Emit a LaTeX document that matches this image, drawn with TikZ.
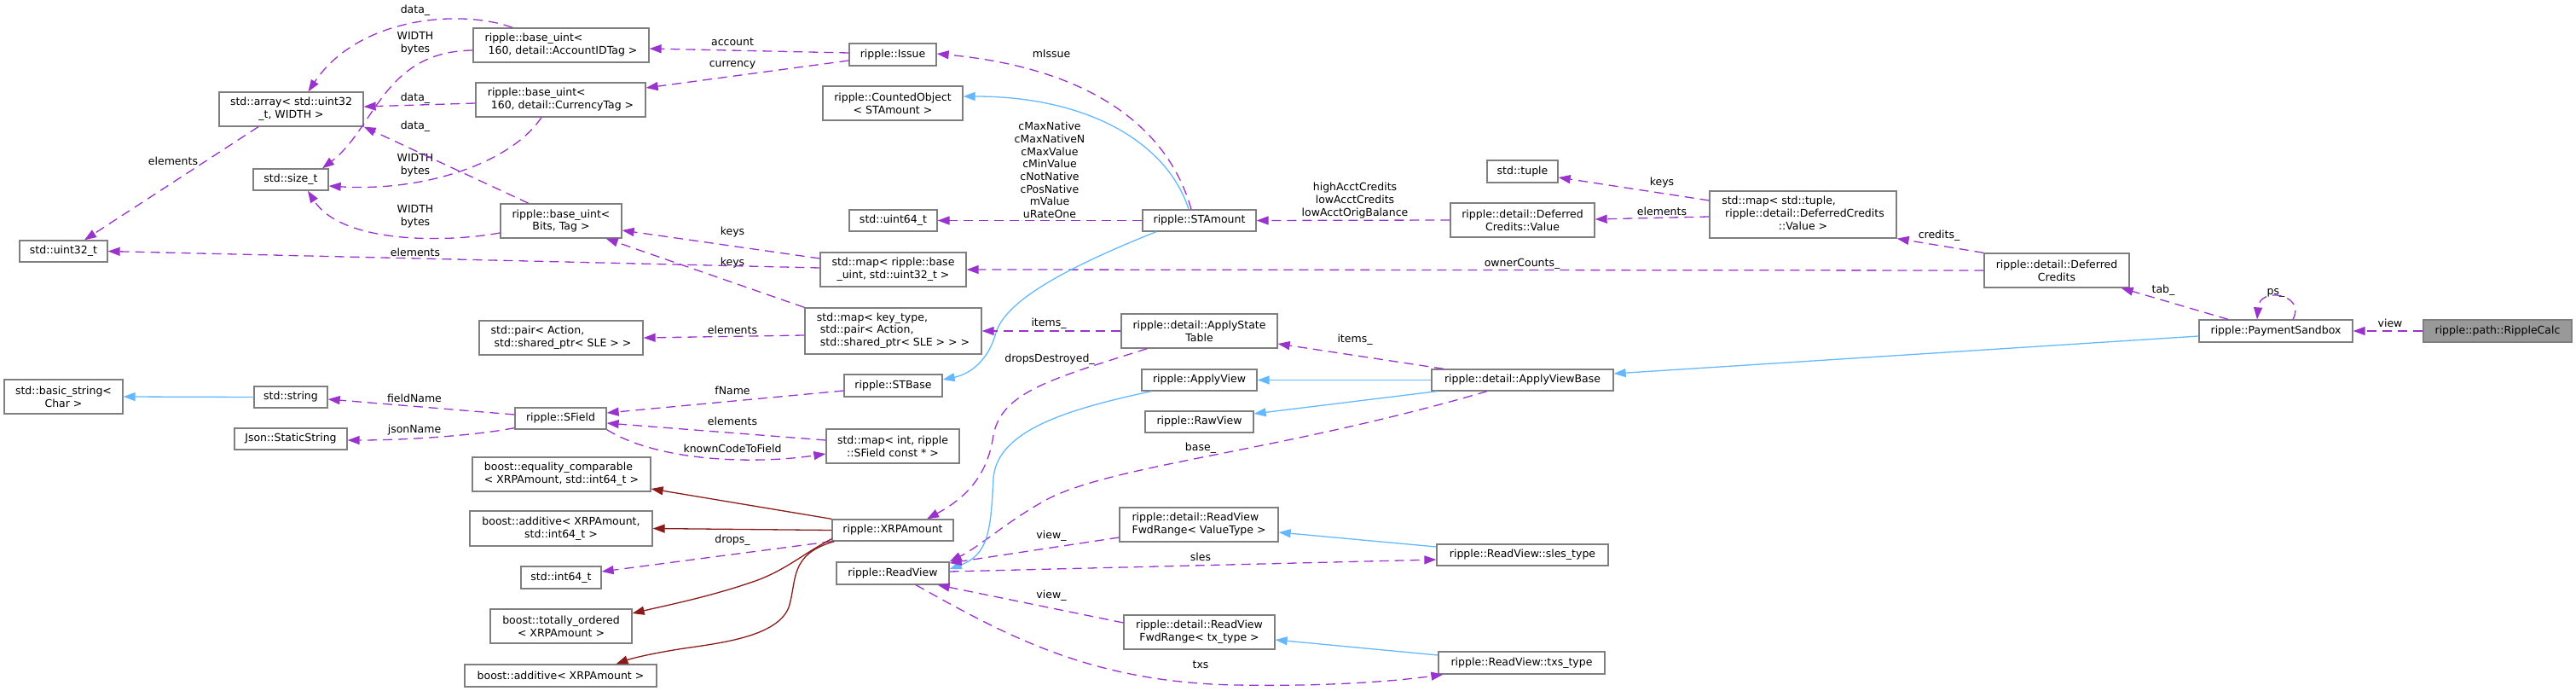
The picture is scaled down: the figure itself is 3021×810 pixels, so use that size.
\documentclass[tikz,border=0pt]{standalone}
\usepackage{fontspec}
\setmainfont{DejaVu Sans}
\usetikzlibrary{arrows.meta}
\definecolor{purp}{HTML}{9A32CD}
\definecolor{lblue}{HTML}{63B8FF}
\definecolor{dred}{HTML}{8B1A1A}
\definecolor{nborder}{HTML}{7F7F7F}
\definecolor{rootfill}{HTML}{999999}
\newcommand\gf{\fontsize{12.5pt}{14.7pt}\selectfont}
\newcommand\LC[2]{\begin{tabular}{@{}l@{}}#1\\\multicolumn{1}{@{}c@{}}{#2}\end{tabular}}
\tikzset{
  box/.style={draw=nborder, line width=1.3pt, fill=white, inner sep=0pt, align=center, font=\gf},
  rootbox/.style={box, fill=rootfill},
  lbl/.style={inner sep=0pt, align=center, font=\gf},
  tipA/.style={-{Triangle[length=14pt,width=10pt]}},
  assoc/.style={draw=purp, line width=1.3pt, dash pattern=on 11pt off 7pt, tipA},
  inh/.style={draw=lblue, line width=1.3pt, tipA},
  rinh/.style={draw=dred, line width=1.3pt, tipA}
}
\begin{document}
\begin{tikzpicture}[x=1pt,y=-1pt]
\useasboundingbox (0,0) rectangle (3021,810);
% ---------- nodes ----------
\node[box, minimum width=169pt, minimum height=40pt] (arr) at (341.5,128) {std::array< std::uint32\\\_t, WIDTH >};
\node[box, minimum width=88pt, minimum height=25pt] (sizet) at (341,210.5) {std::size\_t};
\node[box, minimum width=206pt, minimum height=40pt] (acct) at (658,53) {\LC{ripple::base\_uint<}{\ 160, detail::AccountIDTag >}};
\node[box, minimum width=199pt, minimum height=40pt] (curr) at (657.5,117) {\LC{ripple::base\_uint<}{\ 160, detail::CurrencyTag >}};
\node[box, minimum width=142pt, minimum height=40pt] (bits) at (658,259) {ripple::base\_uint<\\Bits, Tag >};
\node[box, minimum width=103pt, minimum height=25pt] (u32) at (74.5,294.5) {std::uint32\_t};
\node[box, minimum width=102pt, minimum height=26pt] (issue) at (1047,64) {ripple::Issue};
\node[box, minimum width=164pt, minimum height=40pt] (counted) at (1047,121) {ripple::CountedObject\\< STAmount >};
\node[box, minimum width=103pt, minimum height=25pt] (u64) at (1047.5,258.5) {std::uint64\_t};
\node[box, minimum width=133pt, minimum height=25pt] (stamount) at (1406.5,258.5) {ripple::STAmount};
\node[box, minimum width=83pt, minimum height=26pt] (tuple) at (1785.5,201) {std::tuple};
\node[box, minimum width=169pt, minimum height=40pt] (dcval) at (1785.5,258) {ripple::detail::Deferred\\Credits::Value};
\node[box, minimum width=219pt, minimum height=55pt] (maptuple) at (2114.5,251.5) {\LC{std::map< std::tuple,\\\ ripple::detail::DeferredCredits}{::Value >}};
\node[box, minimum width=170pt, minimum height=40pt] (dc) at (2412,317) {ripple::detail::Deferred\\Credits};
\node[box, minimum width=180pt, minimum height=26pt] (psb) at (2669,388) {ripple::PaymentSandbox};
\node[rootbox, minimum width=174pt, minimum height=26pt] (rc) at (2929,388) {ripple::path::RippleCalc};
\node[box, minimum width=213pt, minimum height=25pt] (avb) at (1785.5,445.5) {ripple::detail::ApplyViewBase};
\node[box, minimum width=171pt, minimum height=40pt] (mapbu) at (1047.5,316) {std::map< ripple::base\\\_uint, std::uint32\_t >};
\node[box, minimum width=207pt, minimum height=54pt] (mapkt) at (1047.5,388) {\LC{std::map< key\_type,\\\ std::pair< Action,}{\ std::shared\_ptr< SLE > > >}};
\node[box, minimum width=115pt, minimum height=26pt] (stbase) at (1047.5,452) {ripple::STBase};
\node[box, minimum width=156pt, minimum height=40pt] (mapint) at (1047,523) {std::map< int, ripple\\::SField const * >};
\node[box, minimum width=183pt, minimum height=40pt] (ast) at (1406.5,388) {ripple::detail::ApplyState\\Table};
\node[box, minimum width=135pt, minimum height=25pt] (aview) at (1406.5,445.5) {ripple::ApplyView};
\node[box, minimum width=127pt, minimum height=25pt] (rawview) at (1406.5,494.5) {ripple::RawView};
\node[box, minimum width=192pt, minimum height=40pt] (pair) at (658,396) {\LC{std::pair< Action,}{\ std::shared\_ptr< SLE > >}};
\node[box, minimum width=139pt, minimum height=40pt] (bstr) at (74.5,465) {std::basic\_string<\\Char >};
\node[box, minimum width=86pt, minimum height=25pt] (string) at (341,465.5) {std::string};
\node[box, minimum width=132pt, minimum height=25pt] (json) at (341,514.5) {Json::StaticString};
\node[box, minimum width=107pt, minimum height=25pt] (sfield) at (657.5,490.5) {ripple::SField};
\node[box, minimum width=209pt, minimum height=40pt] (eqc) at (658.5,556) {\LC{boost::equality\_comparable}{< XRPAmount, std::int64\_t >}};
\node[box, minimum width=214pt, minimum height=41pt] (add2) at (658,619.5) {boost::additive< XRPAmount,\\std::int64\_t >};
\node[box, minimum width=94pt, minimum height=26pt] (i64) at (658,677) {std::int64\_t};
\node[box, minimum width=166pt, minimum height=40pt] (tot) at (658,734) {boost::totally\_ordered\\< XRPAmount >};
\node[box, minimum width=225pt, minimum height=26pt] (add1) at (657.5,792) {boost::additive< XRPAmount >};
\node[box, minimum width=142pt, minimum height=25pt] (xrp) at (1047,621.5) {ripple::XRPAmount};
\node[box, minimum width=132pt, minimum height=26pt] (readview) at (1047,672) {ripple::ReadView};
\node[box, minimum width=186pt, minimum height=40pt] (fwdv) at (1406,615) {\LC{ripple::detail::ReadView}{FwdRange< ValueType >}};
\node[box, minimum width=177pt, minimum height=40pt] (fwdt) at (1406.5,741) {ripple::detail::ReadView\\FwdRange< tx\_type >};
\node[box, minimum width=201pt, minimum height=25pt] (sles) at (1785.5,650.5) {ripple::ReadView::sles\_type};
\node[box, minimum width=195pt, minimum height=26pt] (txs) at (1784.5,777) {ripple::ReadView::txs\_type};
% ---------- edge labels ----------
\node[lbl] (l1) at (487,12) {data\_};
\node[lbl] (l2) at (487,50.5) {WIDTH\\bytes};
\node[lbl] (l3) at (487,115) {data\_};
\node[lbl] (l4) at (487,148) {data\_};
\node[lbl] (l5) at (487,193.5) {WIDTH\\bytes};
\node[lbl] (l6) at (487,253.5) {WIDTH\\bytes};
\node[lbl] (l7) at (203,189) {elements};
\node[lbl] (l8) at (859,49) {account};
\node[lbl] (l9) at (859,76) {currency};
\node[lbl] (l10) at (1233,63) {mIssue};
\node[lbl] (l11) at (1231,199.5) {cMaxNative\\cMaxNativeN\\cMaxValue\\cMinValue\\cNotNative\\cPosNative\\mValue\\uRateOne};
\node[lbl] (l12) at (1589,235) {highAcctCredits\\lowAcctCredits\\lowAcctOrigBalance};
\node[lbl] (l13) at (1949,214) {keys};
\node[lbl] (l14) at (1949,248) {elements};
\node[lbl] (l15) at (2274,276) {credits\_};
\node[lbl] (l16) at (2537,340) {tab\_};
\node[lbl] (l17) at (2669,343) {ps\_};
\node[lbl] (l18) at (2803,379) {view};
\node[lbl] (l19) at (1785,309) {ownerCounts\_};
\node[lbl] (l20) at (1589,398) {items\_};
\node[lbl] (l21) at (859,272) {keys};
\node[lbl] (l22) at (859,308) {keys};
\node[lbl] (l23) at (487,296) {elements};
\node[lbl] (l24) at (859,387) {elements};
\node[lbl] (l25) at (1230,379) {items\_};
\node[lbl] (l26) at (1231,421) {dropsDestroyed\_};
\node[lbl] (l27) at (859,458) {fName};
\node[lbl] (l28) at (859,494) {elements};
\node[lbl] (l29) at (859,526) {knownCodeToField};
\node[lbl] (l30) at (1408,525) {base\_};
\node[lbl] (l31) at (486,467) {fieldName};
\node[lbl] (l32) at (486,504) {jsonName};
\node[lbl] (l33) at (859,633) {drops\_};
\node[lbl] (l34) at (1233,628) {view\_};
\node[lbl] (l35) at (1408,653) {sles};
\node[lbl] (l36) at (1233,698) {view\_};
\node[lbl] (l37) at (1408,779) {txs};
% ---------- edges ----------
\draw[assoc] ([xshift=-57pt]acct.north) .. controls (540,10) and (420,20) .. ([xshift=20pt]arr.north);
\draw[assoc] ([yshift=-6pt]acct.west) .. controls (450,60) and (440,150) .. ([xshift=37pt]sizet.north);
\draw[assoc] ([yshift=-4pt]curr.west) -- ([yshift=3pt]arr.east);
\draw[assoc] ([xshift=-22.5pt]curr.south) .. controls (600,190) and (500,225) .. ([yshift=-7.5pt]sizet.east);
\draw[assoc] ([xshift=-38pt]bits.north) -- (arr.south east);
\draw[assoc] ([yshift=-14pt]bits.west) .. controls (520,285) and (400,285) .. ([xshift=20pt]sizet.south);
\draw[assoc] ([xshift=-38.5pt]arr.south) -- ([xshift=24.5pt]u32.north);
\draw[assoc] ([yshift=2pt]issue.west) -- ([yshift=-4pt]acct.east);
\draw[assoc] ([yshift=-7pt]issue.west) -- ([yshift=14pt]curr.east);
\draw[assoc] ([xshift=-9.5pt]stamount.north) .. controls (1370,150) and (1280,80) .. ([yshift=1pt]issue.east);
\draw[inh] ([xshift=-12.5pt]stamount.north) .. controls (1370,170) and (1280,113) .. ([yshift=8pt]counted.east);
\draw[assoc] (stamount.west) -- (u64.east);
\draw[assoc] (dcval.west) -- (stamount.east);
\draw[assoc] ([yshift=16.5pt]maptuple.west) -- ([yshift=-7pt]tuple.east);
\draw[assoc] ([yshift=-2.5pt]maptuple.west) -- ([yshift=1pt]dcval.east);
\draw[assoc] (dc.north west) -- (maptuple.south east);
\draw[assoc] (dc.west) -- (mapbu.east);
\draw[assoc] ([xshift=-56pt]psb.north) -- ([xshift=-10pt]dc.south east);
\draw[assoc] ([xshift=20pt]psb.north) .. controls (2705,345) and (2650,335) .. ([xshift=-22pt]psb.north);
\draw[assoc] (rc.west) -- (psb.east);
\draw[inh] ([yshift=-6pt]psb.west) -- ([yshift=7.5pt]avb.east);
\draw[assoc] ([xshift=-92.5pt]avb.north) -- ([yshift=-15pt]ast.east);
\draw[inh] (avb.west) -- (aview.east);
\draw[inh] ([xshift=7pt]avb.south west) -- ([yshift=9.5pt]rawview.east);
\draw[assoc] ([xshift=-41.5pt]avb.south) .. controls (1500,530) and (1300,545) .. (1225,587) .. controls (1180,612) and (1150,640) .. (readview.north east);
\draw[inh] ([xshift=12pt]aview.south west) .. controls (1250,480) and (1170,505) .. (1165,560) .. controls (1162,620) and (1160,650) .. ([yshift=5pt]readview.east);
\draw[inh] ([xshift=-50.5pt]stamount.south) .. controls (1260,310) and (1180,350) .. (1168,390) .. controls (1160,420) and (1140,438) .. ([yshift=7pt]stbase.east);
\draw[inh] (string.west) -- (bstr.east);
\draw[assoc] ([yshift=13pt]mapbu.west) -- ([yshift=-11pt]bits.east);
\draw[assoc] ([yshift=2pt]mapbu.west) -- (u32.east);
\draw[assoc] (mapkt.north west) -- ([xshift=-19pt]bits.south east);
\draw[assoc] ([yshift=-5pt]mapkt.west) -- (pair.east);
\draw[assoc] (ast.west) -- (mapkt.east);
\draw[assoc] ([xshift=31pt]ast.south west) .. controls (1230,445) and (1175,460) .. (1165,510) .. controls (1158,560) and (1130,585) .. ([xshift=40pt]xrp.north);
\draw[assoc] ([yshift=-6pt]stbase.west) -- ([yshift=6.5pt]sfield.east);
\draw[assoc] ([yshift=7pt]mapint.west) -- ([yshift=-5.5pt]sfield.east);
\draw[assoc] (sfield.south east) .. controls (770,540) and (880,545) .. ([yshift=-9pt]mapint.west);
\draw[assoc] ([yshift=4.5pt]sfield.west) -- ([yshift=-2.5pt]string.east);
\draw[assoc] ([yshift=2pt]sfield.south west) .. controls (560,510) and (480,516) .. ([yshift=-1.5pt]json.east);
\draw[rinh] (xrp.north west) -- ([yshift=-17pt]eqc.east);
\draw[rinh] (xrp.west) -- (add2.east);
\draw[assoc] (xrp.south west) -- ([yshift=7pt]i64.east);
\draw[rinh] ([yshift=3pt]xrp.south west) .. controls (940,650) and (920,670) .. (880,683) .. controls (830,700) and (780,710) .. ([yshift=15pt]tot.east);
\draw[rinh] ([xshift=3pt]xrp.south west) .. controls (925,650) and (935,680) .. (925,712) .. controls (910,750) and (830,755) .. (790,762) .. controls (760,767) and (740,772) .. ([xshift=65pt]add1.north);
\draw[assoc] ([yshift=-15pt]fwdv.west) -- ([yshift=12pt]readview.east);
\draw[assoc] ([yshift=2pt]readview.east) -- ([yshift=-5.5pt]sles.west);
\draw[assoc] ([yshift=11pt]fwdt.west) -- ([xshift=-14pt]readview.south east);
\draw[assoc] ([xshift=27pt]readview.south) .. controls (1180,745) and (1280,800) .. (1450,803) .. controls (1560,805) and (1640,798) .. ([xshift=6pt]txs.south west);
\draw[inh] ([yshift=9.5pt]sles.west) -- ([yshift=-9pt]fwdv.east);
\draw[inh] ([yshift=9pt]txs.west) -- ([yshift=-9pt]fwdt.east);
\end{tikzpicture}
\end{document}
